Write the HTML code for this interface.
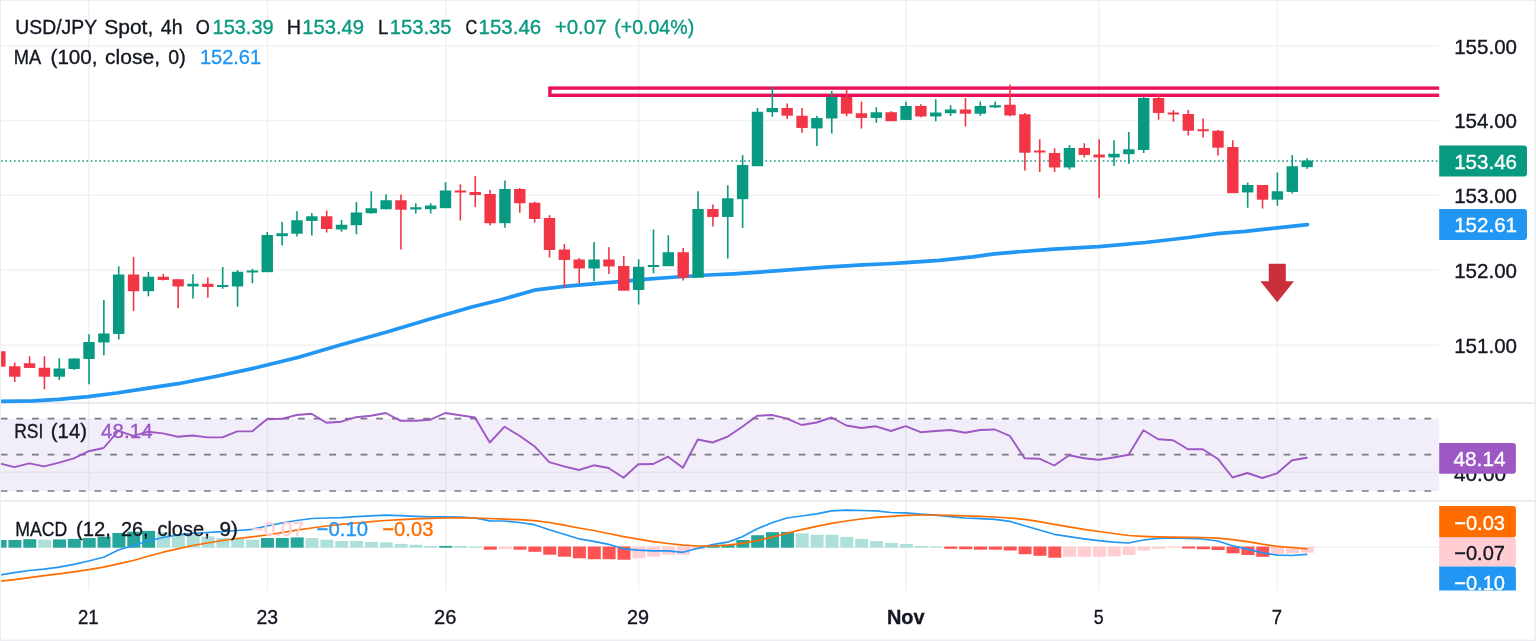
<!DOCTYPE html>
<html lang="en"><head><meta charset="utf-8"><title>USD/JPY Spot, 4h chart</title>
<style>html,body{margin:0;padding:0;background:#fff}body{width:1536px;height:641px;overflow:hidden}svg{display:block}text{font-family:"Liberation Sans","DejaVu Sans",sans-serif}</style></head><body>
<svg width="1536" height="641" viewBox="0 0 1536 641">
<rect x="0" y="0" width="1536" height="641" fill="#ffffff"/>
<g id="grid"><rect x="88.20" y="1" width="1.4" height="589.3" fill="#eff2f1"/><rect x="266.80" y="1" width="1.4" height="589.3" fill="#eff2f1"/><rect x="445.10" y="1" width="1.4" height="589.3" fill="#eff2f1"/><rect x="637.90" y="1" width="1.4" height="589.3" fill="#eff2f1"/><rect x="905.10" y="1" width="1.4" height="589.3" fill="#eff2f1"/><rect x="1098.20" y="1" width="1.4" height="589.3" fill="#eff2f1"/><rect x="1276.50" y="1" width="1.4" height="589.3" fill="#eff2f1"/><rect x="1" y="45.30" width="1438.2" height="1.4" fill="#eff2f1"/><rect x="1" y="119.90" width="1438.2" height="1.4" fill="#eff2f1"/><rect x="1" y="194.65" width="1438.2" height="1.4" fill="#eff2f1"/><rect x="1" y="269.30" width="1438.2" height="1.4" fill="#eff2f1"/><rect x="1" y="344.50" width="1438.2" height="1.4" fill="#eff2f1"/><rect x="1" y="471.60" width="1438.2" height="1.2" fill="#eff2f1"/><rect x="1" y="546.60" width="1438.2" height="1.2" fill="#eff2f1"/></g>
<rect x="1" y="418.7" width="1438.2" height="72.4" fill="#7e57c2" fill-opacity="0.1"/>
<line x1="0.7" y1="418.7" x2="1438.2" y2="418.7" stroke="#787b86" stroke-width="1.7" stroke-dasharray="6.8 8.845"/>
<line x1="0.7" y1="454.7" x2="1438.2" y2="454.7" stroke="#787b86" stroke-width="1.7" stroke-dasharray="6.8 8.845"/>
<line x1="0.7" y1="491.0" x2="1438.2" y2="491.0" stroke="#787b86" stroke-width="1.7" stroke-dasharray="6.8 8.845"/>
<rect x="0" y="402.1" width="1536" height="1.6" fill="#e4e7ee"/>
<rect x="0" y="500.0" width="1536" height="1.6" fill="#e4e7ee"/>
<rect x="549.9" y="88.1" width="892.3" height="7.2" fill="none" stroke="#e8105a" stroke-width="3.4" clip-path="url(#cpMain)"/>
<defs><clipPath id="cpMain"><rect x="0" y="0" width="1439.2" height="402"/></clipPath><clipPath id="cpChart"><rect x="1" y="0" width="1438.2" height="641"/></clipPath></defs>
<line x1="1.2" y1="161.1" x2="1439.2" y2="161.1" stroke="#089981" stroke-width="1.5" stroke-dasharray="1.55 2.72"/>
<polyline points="-2.0,401.4 0.0,401.3 33.3,400.8 58.3,399.3 88.3,396.7 116.7,393.0 146.7,388.3 178.0,383.7 216.7,376.3 255.7,367.8 297.7,357.5 339.3,345.3 386.0,332.2 429.3,319.2 472.7,306.7 500.0,300.0 534.2,290.2 564.2,286.3 593.3,283.8 616.7,281.8 650.0,278.8 676.7,277.0 708.3,275.0 733.3,273.8 756.0,272.4 789.3,269.8 826.0,267.1 862.7,264.8 892.7,263.5 906.0,262.7 939.3,260.3 972.7,256.8 994.3,253.8 1012.0,252.3 1053.7,249.2 1098.7,246.6 1145.3,242.5 1188.7,237.5 1217.0,233.7 1245.3,231.3 1267.7,228.9 1277.2,227.9 1307.5,224.7" fill="none" stroke="#2196f3" stroke-width="3.7" stroke-linejoin="round" stroke-linecap="round" clip-path="url(#cpChart)"/>
<g id="candles" clip-path="url(#cpChart)"><rect x="-5.83" y="351.25" width="11.4" height="15.45" fill="#f23645"/><rect x="13.92" y="362.50" width="1.6" height="19.50" fill="#f23645"/><rect x="9.02" y="366.25" width="11.4" height="10.45" fill="#f23645"/><rect x="28.78" y="356.25" width="1.6" height="11.25" fill="#f23645"/><rect x="23.88" y="363.25" width="11.4" height="4.70" fill="#f23645"/><rect x="43.64" y="356.25" width="1.6" height="33.00" fill="#f23645"/><rect x="38.73" y="367.75" width="11.4" height="8.95" fill="#f23645"/><rect x="58.49" y="358.25" width="1.6" height="21.75" fill="#089981"/><rect x="53.59" y="368.50" width="11.4" height="8.20" fill="#089981"/><rect x="73.34" y="358.50" width="1.6" height="11.50" fill="#089981"/><rect x="68.44" y="358.50" width="11.4" height="10.45" fill="#089981"/><rect x="88.20" y="334.25" width="1.6" height="50.00" fill="#089981"/><rect x="83.30" y="342.00" width="11.4" height="16.95" fill="#089981"/><rect x="103.06" y="300.00" width="1.6" height="55.25" fill="#089981"/><rect x="98.16" y="333.50" width="11.4" height="8.95" fill="#089981"/><rect x="117.91" y="266.25" width="1.6" height="73.25" fill="#089981"/><rect x="113.01" y="274.50" width="11.4" height="59.45" fill="#089981"/><rect x="132.76" y="257.00" width="1.6" height="54.00" fill="#f23645"/><rect x="127.86" y="274.50" width="11.4" height="16.70" fill="#f23645"/><rect x="147.62" y="272.00" width="1.6" height="24.25" fill="#089981"/><rect x="142.72" y="276.75" width="11.4" height="14.45" fill="#089981"/><rect x="162.48" y="273.75" width="1.6" height="6.75" fill="#f23645"/><rect x="157.58" y="276.75" width="11.4" height="3.20" fill="#f23645"/><rect x="177.33" y="279.25" width="1.6" height="29.00" fill="#f23645"/><rect x="172.43" y="279.25" width="11.4" height="7.20" fill="#f23645"/><rect x="192.19" y="274.25" width="1.6" height="24.25" fill="#089981"/><rect x="187.29" y="283.75" width="11.4" height="2.70" fill="#089981"/><rect x="207.04" y="277.50" width="1.6" height="20.25" fill="#f23645"/><rect x="202.14" y="283.75" width="11.4" height="3.20" fill="#f23645"/><rect x="221.89" y="267.00" width="1.6" height="21.75" fill="#089981"/><rect x="217.00" y="285.00" width="11.4" height="2.00" fill="#089981"/><rect x="236.75" y="270.00" width="1.6" height="36.75" fill="#089981"/><rect x="231.85" y="271.75" width="11.4" height="14.70" fill="#089981"/><rect x="251.61" y="268.75" width="1.6" height="14.50" fill="#089981"/><rect x="246.71" y="270.50" width="11.4" height="2.00" fill="#089981"/><rect x="266.46" y="232.00" width="1.6" height="39.75" fill="#089981"/><rect x="261.56" y="235.00" width="11.4" height="37.20" fill="#089981"/><rect x="281.31" y="222.00" width="1.6" height="23.50" fill="#089981"/><rect x="276.42" y="233.25" width="11.4" height="2.95" fill="#089981"/><rect x="296.17" y="211.25" width="1.6" height="25.25" fill="#089981"/><rect x="291.27" y="220.25" width="11.4" height="13.45" fill="#089981"/><rect x="311.03" y="213.00" width="1.6" height="22.50" fill="#089981"/><rect x="306.13" y="216.25" width="11.4" height="4.70" fill="#089981"/><rect x="325.88" y="210.50" width="1.6" height="22.00" fill="#f23645"/><rect x="320.98" y="216.25" width="11.4" height="12.70" fill="#f23645"/><rect x="340.74" y="220.00" width="1.6" height="11.75" fill="#089981"/><rect x="335.84" y="224.75" width="11.4" height="4.70" fill="#089981"/><rect x="355.59" y="202.00" width="1.6" height="32.25" fill="#089981"/><rect x="350.69" y="212.50" width="11.4" height="12.70" fill="#089981"/><rect x="370.44" y="191.25" width="1.6" height="22.50" fill="#089981"/><rect x="365.55" y="208.25" width="11.4" height="4.95" fill="#089981"/><rect x="385.30" y="194.25" width="1.6" height="15.25" fill="#089981"/><rect x="380.40" y="200.25" width="11.4" height="8.95" fill="#089981"/><rect x="400.15" y="194.50" width="1.6" height="55.00" fill="#f23645"/><rect x="395.25" y="200.25" width="11.4" height="9.45" fill="#f23645"/><rect x="415.01" y="203.25" width="1.6" height="10.25" fill="#089981"/><rect x="410.11" y="207.25" width="11.4" height="2.20" fill="#089981"/><rect x="429.87" y="203.25" width="1.6" height="10.25" fill="#089981"/><rect x="424.97" y="205.50" width="11.4" height="3.70" fill="#089981"/><rect x="444.72" y="182.25" width="1.6" height="25.50" fill="#089981"/><rect x="439.82" y="190.50" width="11.4" height="17.70" fill="#089981"/><rect x="459.57" y="184.25" width="1.6" height="36.25" fill="#f23645"/><rect x="454.68" y="190.50" width="11.4" height="2.00" fill="#f23645"/><rect x="474.43" y="176.00" width="1.6" height="31.00" fill="#f23645"/><rect x="469.53" y="192.00" width="11.4" height="2.95" fill="#f23645"/><rect x="489.29" y="190.00" width="1.6" height="35.50" fill="#f23645"/><rect x="484.39" y="194.00" width="11.4" height="29.20" fill="#f23645"/><rect x="504.14" y="180.50" width="1.6" height="47.25" fill="#089981"/><rect x="499.24" y="189.00" width="11.4" height="34.20" fill="#089981"/><rect x="519.00" y="188.00" width="1.6" height="24.75" fill="#f23645"/><rect x="514.09" y="189.00" width="11.4" height="14.20" fill="#f23645"/><rect x="533.85" y="201.75" width="1.6" height="21.00" fill="#f23645"/><rect x="528.95" y="202.75" width="11.4" height="16.20" fill="#f23645"/><rect x="548.71" y="215.25" width="1.6" height="42.25" fill="#f23645"/><rect x="543.80" y="218.00" width="11.4" height="31.95" fill="#f23645"/><rect x="563.56" y="244.00" width="1.6" height="44.00" fill="#f23645"/><rect x="558.66" y="249.50" width="11.4" height="10.45" fill="#f23645"/><rect x="578.42" y="258.00" width="1.6" height="25.25" fill="#f23645"/><rect x="573.51" y="259.50" width="11.4" height="8.95" fill="#f23645"/><rect x="593.27" y="242.00" width="1.6" height="39.25" fill="#089981"/><rect x="588.37" y="259.50" width="11.4" height="8.95" fill="#089981"/><rect x="608.13" y="247.25" width="1.6" height="26.75" fill="#f23645"/><rect x="603.23" y="259.50" width="11.4" height="6.95" fill="#f23645"/><rect x="622.98" y="256.00" width="1.6" height="34.25" fill="#f23645"/><rect x="618.08" y="266.00" width="11.4" height="24.70" fill="#f23645"/><rect x="637.84" y="259.25" width="1.6" height="45.25" fill="#089981"/><rect x="632.93" y="266.75" width="11.4" height="23.20" fill="#089981"/><rect x="652.69" y="229.50" width="1.6" height="43.75" fill="#089981"/><rect x="647.79" y="265.00" width="11.4" height="2.00" fill="#089981"/><rect x="667.55" y="235.25" width="1.6" height="30.50" fill="#089981"/><rect x="662.64" y="252.25" width="11.4" height="13.95" fill="#089981"/><rect x="682.40" y="248.00" width="1.6" height="32.50" fill="#f23645"/><rect x="677.50" y="252.25" width="11.4" height="25.45" fill="#f23645"/><rect x="697.26" y="191.25" width="1.6" height="86.00" fill="#089981"/><rect x="692.36" y="209.00" width="11.4" height="68.70" fill="#089981"/><rect x="712.11" y="204.50" width="1.6" height="22.00" fill="#f23645"/><rect x="707.21" y="209.00" width="11.4" height="7.95" fill="#f23645"/><rect x="726.97" y="185.25" width="1.6" height="73.25" fill="#089981"/><rect x="722.06" y="198.25" width="11.4" height="18.70" fill="#089981"/><rect x="741.82" y="155.00" width="1.6" height="73.00" fill="#089981"/><rect x="736.92" y="165.00" width="11.4" height="34.20" fill="#089981"/><rect x="756.68" y="108.00" width="1.6" height="57.75" fill="#089981"/><rect x="751.77" y="111.75" width="11.4" height="54.45" fill="#089981"/><rect x="771.53" y="87.00" width="1.6" height="29.75" fill="#089981"/><rect x="766.63" y="108.00" width="11.4" height="4.20" fill="#089981"/><rect x="786.39" y="103.50" width="1.6" height="15.50" fill="#f23645"/><rect x="781.49" y="108.00" width="11.4" height="7.70" fill="#f23645"/><rect x="801.24" y="108.00" width="1.6" height="24.75" fill="#f23645"/><rect x="796.34" y="115.75" width="11.4" height="12.20" fill="#f23645"/><rect x="816.10" y="115.75" width="1.6" height="30.25" fill="#089981"/><rect x="811.19" y="118.00" width="11.4" height="10.45" fill="#089981"/><rect x="830.95" y="91.00" width="1.6" height="42.50" fill="#089981"/><rect x="826.05" y="97.00" width="11.4" height="21.45" fill="#089981"/><rect x="845.81" y="89.50" width="1.6" height="26.75" fill="#f23645"/><rect x="840.90" y="97.00" width="11.4" height="16.70" fill="#f23645"/><rect x="860.66" y="101.50" width="1.6" height="27.00" fill="#f23645"/><rect x="855.76" y="113.25" width="11.4" height="4.70" fill="#f23645"/><rect x="875.52" y="107.25" width="1.6" height="15.50" fill="#089981"/><rect x="870.62" y="112.25" width="11.4" height="5.70" fill="#089981"/><rect x="890.37" y="111.25" width="1.6" height="9.50" fill="#f23645"/><rect x="885.47" y="112.25" width="11.4" height="8.95" fill="#f23645"/><rect x="905.23" y="101.75" width="1.6" height="17.75" fill="#089981"/><rect x="900.32" y="106.00" width="11.4" height="13.95" fill="#089981"/><rect x="920.08" y="104.25" width="1.6" height="13.00" fill="#f23645"/><rect x="915.18" y="106.00" width="11.4" height="10.45" fill="#f23645"/><rect x="934.94" y="99.25" width="1.6" height="22.00" fill="#089981"/><rect x="930.03" y="112.50" width="11.4" height="3.95" fill="#089981"/><rect x="949.79" y="105.25" width="1.6" height="10.75" fill="#089981"/><rect x="944.89" y="109.50" width="11.4" height="3.70" fill="#089981"/><rect x="964.65" y="98.00" width="1.6" height="28.50" fill="#f23645"/><rect x="959.75" y="109.50" width="11.4" height="4.20" fill="#f23645"/><rect x="979.50" y="101.50" width="1.6" height="14.25" fill="#089981"/><rect x="974.60" y="106.00" width="11.4" height="7.70" fill="#089981"/><rect x="994.36" y="101.50" width="1.6" height="6.50" fill="#089981"/><rect x="989.45" y="105.25" width="11.4" height="2.20" fill="#089981"/><rect x="1009.21" y="84.50" width="1.6" height="31.75" fill="#f23645"/><rect x="1004.31" y="104.75" width="11.4" height="10.70" fill="#f23645"/><rect x="1024.07" y="113.00" width="1.6" height="57.50" fill="#f23645"/><rect x="1019.16" y="114.25" width="11.4" height="38.45" fill="#f23645"/><rect x="1038.92" y="139.25" width="1.6" height="32.75" fill="#f23645"/><rect x="1034.02" y="150.50" width="11.4" height="2.00" fill="#f23645"/><rect x="1053.78" y="148.25" width="1.6" height="23.75" fill="#f23645"/><rect x="1048.88" y="153.00" width="11.4" height="14.45" fill="#f23645"/><rect x="1068.63" y="145.00" width="1.6" height="24.50" fill="#089981"/><rect x="1063.73" y="148.00" width="11.4" height="19.45" fill="#089981"/><rect x="1083.49" y="143.25" width="1.6" height="14.25" fill="#f23645"/><rect x="1078.59" y="148.00" width="11.4" height="6.95" fill="#f23645"/><rect x="1098.34" y="139.25" width="1.6" height="58.75" fill="#f23645"/><rect x="1093.44" y="154.50" width="11.4" height="2.95" fill="#f23645"/><rect x="1113.20" y="140.25" width="1.6" height="25.75" fill="#089981"/><rect x="1108.30" y="153.75" width="11.4" height="3.70" fill="#089981"/><rect x="1128.05" y="132.00" width="1.6" height="31.75" fill="#089981"/><rect x="1123.15" y="149.25" width="11.4" height="4.95" fill="#089981"/><rect x="1142.90" y="97.00" width="1.6" height="56.00" fill="#089981"/><rect x="1138.00" y="98.00" width="11.4" height="51.95" fill="#089981"/><rect x="1157.76" y="94.00" width="1.6" height="25.75" fill="#f23645"/><rect x="1152.86" y="98.00" width="11.4" height="14.95" fill="#f23645"/><rect x="1172.62" y="110.00" width="1.6" height="11.75" fill="#f23645"/><rect x="1167.71" y="112.50" width="11.4" height="2.00" fill="#f23645"/><rect x="1187.47" y="110.00" width="1.6" height="25.50" fill="#f23645"/><rect x="1182.57" y="114.00" width="11.4" height="16.70" fill="#f23645"/><rect x="1202.33" y="118.50" width="1.6" height="19.00" fill="#f23645"/><rect x="1197.42" y="129.25" width="11.4" height="2.00" fill="#f23645"/><rect x="1217.18" y="130.00" width="1.6" height="25.50" fill="#f23645"/><rect x="1212.28" y="130.75" width="11.4" height="16.95" fill="#f23645"/><rect x="1232.04" y="140.25" width="1.6" height="52.50" fill="#f23645"/><rect x="1227.13" y="147.00" width="11.4" height="46.20" fill="#f23645"/><rect x="1246.89" y="182.50" width="1.6" height="25.25" fill="#089981"/><rect x="1241.99" y="185.00" width="11.4" height="7.45" fill="#089981"/><rect x="1261.75" y="185.00" width="1.6" height="23.50" fill="#f23645"/><rect x="1256.85" y="185.00" width="11.4" height="14.70" fill="#f23645"/><rect x="1276.60" y="172.50" width="1.6" height="33.25" fill="#089981"/><rect x="1271.70" y="191.25" width="11.4" height="8.45" fill="#089981"/><rect x="1291.46" y="155.00" width="1.6" height="38.50" fill="#089981"/><rect x="1286.56" y="166.25" width="11.4" height="25.70" fill="#089981"/><rect x="1306.31" y="158.25" width="1.6" height="10.65" fill="#089981"/><rect x="1301.41" y="160.50" width="11.4" height="6.65" fill="#089981"/></g>
<path d="M1268.8 263.8H1285.8V281.3H1294L1277.2 302.3L1260.4 281.3H1268.8Z" fill="#cc2f3c"/>
<g id="hist" clip-path="url(#cpChart)"><rect x="-6.43" y="540.00" width="13.0" height="7.70" fill="#26a69a"/><rect x="8.42" y="540.00" width="13.0" height="7.70" fill="#26a69a"/><rect x="23.28" y="539.20" width="13.0" height="8.50" fill="#26a69a"/><rect x="38.14" y="539.70" width="13.0" height="8.00" fill="#ace0d9"/><rect x="52.99" y="539.40" width="13.0" height="8.30" fill="#26a69a"/><rect x="67.84" y="538.90" width="13.0" height="8.80" fill="#26a69a"/><rect x="82.70" y="538.00" width="13.0" height="9.70" fill="#26a69a"/><rect x="97.56" y="536.70" width="13.0" height="11.00" fill="#26a69a"/><rect x="112.41" y="533.00" width="13.0" height="14.70" fill="#26a69a"/><rect x="127.26" y="531.70" width="13.0" height="16.00" fill="#26a69a"/><rect x="142.12" y="530.90" width="13.0" height="16.80" fill="#26a69a"/><rect x="156.98" y="532.20" width="13.0" height="15.50" fill="#ace0d9"/><rect x="171.83" y="533.90" width="13.0" height="13.80" fill="#ace0d9"/><rect x="186.69" y="535.00" width="13.0" height="12.70" fill="#ace0d9"/><rect x="201.54" y="536.40" width="13.0" height="11.30" fill="#ace0d9"/><rect x="216.39" y="538.00" width="13.0" height="9.70" fill="#ace0d9"/><rect x="231.25" y="538.90" width="13.0" height="8.80" fill="#ace0d9"/><rect x="246.11" y="539.70" width="13.0" height="8.00" fill="#ace0d9"/><rect x="260.96" y="538.00" width="13.0" height="9.70" fill="#26a69a"/><rect x="275.81" y="538.00" width="13.0" height="9.70" fill="#26a69a"/><rect x="290.67" y="537.40" width="13.0" height="10.30" fill="#26a69a"/><rect x="305.53" y="538.00" width="13.0" height="9.70" fill="#ace0d9"/><rect x="320.38" y="539.70" width="13.0" height="8.00" fill="#ace0d9"/><rect x="335.24" y="541.00" width="13.0" height="6.70" fill="#ace0d9"/><rect x="350.09" y="541.00" width="13.0" height="6.70" fill="#ace0d9"/><rect x="364.94" y="541.90" width="13.0" height="5.80" fill="#ace0d9"/><rect x="379.80" y="542.40" width="13.0" height="5.30" fill="#ace0d9"/><rect x="394.65" y="543.90" width="13.0" height="3.80" fill="#ace0d9"/><rect x="409.51" y="544.70" width="13.0" height="3.00" fill="#ace0d9"/><rect x="424.37" y="546.00" width="13.0" height="1.70" fill="#ace0d9"/><rect x="439.22" y="545.90" width="13.0" height="1.80" fill="#26a69a"/><rect x="454.07" y="546.00" width="13.0" height="1.70" fill="#ace0d9"/><rect x="468.93" y="546.50" width="13.0" height="1.20" fill="#ace0d9"/><rect x="483.79" y="546.5" width="13.0" height="3.20" fill="#ff5252"/><rect x="498.64" y="546.5" width="13.0" height="2.50" fill="#ffcdd2"/><rect x="513.50" y="546.5" width="13.0" height="3.20" fill="#ff5252"/><rect x="528.35" y="546.5" width="13.0" height="5.30" fill="#ff5252"/><rect x="543.21" y="546.5" width="13.0" height="8.20" fill="#ff5252"/><rect x="558.06" y="546.5" width="13.0" height="10.20" fill="#ff5252"/><rect x="572.92" y="546.5" width="13.0" height="11.80" fill="#ff5252"/><rect x="587.77" y="546.5" width="13.0" height="12.70" fill="#ff5252"/><rect x="602.63" y="546.5" width="13.0" height="12.70" fill="#ff5252"/><rect x="617.48" y="546.5" width="13.0" height="13.20" fill="#ff5252"/><rect x="632.34" y="546.5" width="13.0" height="11.80" fill="#ffcdd2"/><rect x="647.19" y="546.5" width="13.0" height="10.20" fill="#ffcdd2"/><rect x="662.05" y="546.5" width="13.0" height="8.20" fill="#ffcdd2"/><rect x="676.90" y="546.5" width="13.0" height="8.20" fill="#ffcdd2"/><rect x="691.76" y="546.5" width="13.0" height="2.80" fill="#ffcdd2"/><rect x="706.61" y="545.20" width="13.0" height="2.50" fill="#26a69a"/><rect x="721.47" y="544.70" width="13.0" height="3.00" fill="#26a69a"/><rect x="736.32" y="540.00" width="13.0" height="7.70" fill="#26a69a"/><rect x="751.18" y="535.20" width="13.0" height="12.50" fill="#26a69a"/><rect x="766.03" y="532.20" width="13.0" height="15.50" fill="#26a69a"/><rect x="780.89" y="531.90" width="13.0" height="15.80" fill="#26a69a"/><rect x="795.74" y="533.40" width="13.0" height="14.30" fill="#ace0d9"/><rect x="810.60" y="534.70" width="13.0" height="13.00" fill="#ace0d9"/><rect x="825.45" y="534.70" width="13.0" height="13.00" fill="#ace0d9"/><rect x="840.31" y="536.90" width="13.0" height="10.80" fill="#ace0d9"/><rect x="855.16" y="538.90" width="13.0" height="8.80" fill="#ace0d9"/><rect x="870.02" y="541.00" width="13.0" height="6.70" fill="#ace0d9"/><rect x="884.87" y="543.00" width="13.0" height="4.70" fill="#ace0d9"/><rect x="899.73" y="544.00" width="13.0" height="3.70" fill="#ace0d9"/><rect x="914.58" y="546.00" width="13.0" height="1.70" fill="#ace0d9"/><rect x="929.44" y="546.50" width="13.0" height="1.20" fill="#ace0d9"/><rect x="944.29" y="546.5" width="13.0" height="2.30" fill="#ff5252"/><rect x="959.15" y="546.5" width="13.0" height="2.70" fill="#ff5252"/><rect x="974.00" y="546.5" width="13.0" height="3.20" fill="#ff5252"/><rect x="988.86" y="546.5" width="13.0" height="3.20" fill="#ff5252"/><rect x="1003.71" y="546.5" width="13.0" height="4.00" fill="#ff5252"/><rect x="1018.57" y="546.5" width="13.0" height="7.70" fill="#ff5252"/><rect x="1033.42" y="546.5" width="13.0" height="9.30" fill="#ff5252"/><rect x="1048.28" y="546.5" width="13.0" height="11.20" fill="#ff5252"/><rect x="1063.13" y="546.5" width="13.0" height="10.30" fill="#ffcdd2"/><rect x="1077.99" y="546.5" width="13.0" height="10.30" fill="#ffcdd2"/><rect x="1092.84" y="546.5" width="13.0" height="10.30" fill="#ffcdd2"/><rect x="1107.70" y="546.5" width="13.0" height="9.80" fill="#ffcdd2"/><rect x="1122.55" y="546.5" width="13.0" height="8.50" fill="#ffcdd2"/><rect x="1137.40" y="546.5" width="13.0" height="4.00" fill="#ffcdd2"/><rect x="1152.26" y="546.5" width="13.0" height="2.30" fill="#ffcdd2"/><rect x="1167.12" y="546.5" width="13.0" height="1.00" fill="#ffcdd2"/><rect x="1181.97" y="546.5" width="13.0" height="2.00" fill="#ff5252"/><rect x="1196.83" y="546.5" width="13.0" height="2.70" fill="#ff5252"/><rect x="1211.68" y="546.5" width="13.0" height="3.50" fill="#ff5252"/><rect x="1226.54" y="546.5" width="13.0" height="6.80" fill="#ff5252"/><rect x="1241.39" y="546.5" width="13.0" height="8.50" fill="#ff5252"/><rect x="1256.25" y="546.5" width="13.0" height="10.30" fill="#ff5252"/><rect x="1271.10" y="546.5" width="13.0" height="7.30" fill="#ffcdd2"/><rect x="1285.96" y="546.5" width="13.0" height="7.00" fill="#ffcdd2"/><rect x="1300.81" y="546.5" width="13.0" height="6.20" fill="#ffcdd2"/></g>
<polyline points="-0.4,575.0 14.4,572.7 29.3,570.5 44.1,569.2 59.0,567.2 73.8,564.3 88.7,561.0 103.6,557.2 118.4,550.0 133.3,545.5 148.1,541.0 163.0,537.5 177.8,535.0 192.7,533.3 207.5,532.5 222.4,531.7 237.2,530.5 252.1,529.3 267.0,526.0 281.8,523.0 296.7,520.5 311.5,518.5 326.4,518.0 341.2,517.7 356.1,516.7 370.9,515.8 385.8,515.2 400.7,515.7 415.5,516.3 430.4,516.8 445.2,516.8 460.1,517.2 474.9,518.0 489.8,520.8 504.6,521.0 519.5,522.5 534.4,524.7 549.2,529.7 564.1,534.3 578.9,538.8 593.8,541.3 608.6,544.3 623.5,548.8 638.3,550.2 653.2,550.8 668.0,550.8 682.9,552.3 697.8,548.3 712.6,544.7 727.5,542.2 742.3,536.8 757.2,528.8 772.0,522.7 786.9,518.0 801.7,516.0 816.6,513.8 831.5,510.8 846.3,510.2 861.2,510.5 876.0,510.8 890.9,512.5 905.7,512.8 920.6,514.2 935.4,515.2 950.3,516.7 965.1,518.0 980.0,518.7 994.9,519.3 1009.7,521.3 1024.6,525.8 1039.4,530.0 1054.3,534.3 1069.1,536.7 1084.0,538.8 1098.8,540.7 1113.7,542.2 1128.6,543.0 1143.4,540.0 1158.3,538.3 1173.1,537.8 1188.0,538.3 1202.8,539.0 1217.7,541.0 1232.5,545.8 1247.4,549.2 1262.2,552.7 1277.1,555.2 1292.0,555.5 1306.8,554.3" fill="none" stroke="#2196f3" stroke-width="1.7" stroke-linejoin="round" stroke-linecap="round" clip-path="url(#cpChart)"/>
<polyline points="-0.4,581.3 14.4,579.7 29.3,577.7 44.1,575.7 59.0,573.8 73.8,571.8 88.7,569.7 103.6,567.2 118.4,563.8 133.3,560.5 148.1,556.3 163.0,552.2 177.8,548.8 192.7,545.5 207.5,543.0 222.4,540.5 237.2,538.5 252.1,536.8 267.0,535.0 281.8,532.7 296.7,530.2 311.5,528.0 326.4,526.0 341.2,524.3 356.1,523.0 370.9,521.7 385.8,520.5 400.7,519.7 415.5,518.8 430.4,518.3 445.2,518.0 460.1,517.8 474.9,518.0 489.8,518.5 504.6,519.2 519.5,519.7 534.4,520.7 549.2,522.5 564.1,525.2 578.9,528.0 593.8,530.5 608.6,533.5 623.5,536.7 638.3,539.2 653.2,541.7 668.0,543.5 682.9,545.2 697.8,546.0 712.6,546.0 727.5,545.2 742.3,543.3 757.2,540.5 772.0,537.2 786.9,533.3 801.7,529.7 816.6,526.3 831.5,523.3 846.3,521.0 861.2,519.0 876.0,517.3 890.9,516.3 905.7,515.3 920.6,515.0 935.4,515.0 950.3,515.3 965.1,515.8 980.0,516.3 994.9,517.0 1009.7,518.0 1024.6,519.3 1039.4,521.7 1054.3,524.3 1069.1,526.8 1084.0,529.3 1098.8,531.5 1113.7,533.5 1128.6,535.5 1143.4,536.3 1158.3,536.8 1173.1,537.2 1188.0,537.3 1202.8,537.5 1217.7,538.2 1232.5,539.7 1247.4,541.7 1262.2,544.2 1277.1,546.3 1292.0,547.5 1306.8,548.8" fill="none" stroke="#ff6d00" stroke-width="1.7" stroke-linejoin="round" stroke-linecap="round" clip-path="url(#cpChart)"/>
<polyline points="-0.4,463.4 14.4,467.1 29.3,463.4 44.1,466.4 59.0,462.6 73.8,458.4 88.7,451.2 103.6,448.0 118.4,430.9 133.3,435.9 148.1,431.7 163.0,433.4 177.8,436.7 192.7,435.5 207.5,437.4 222.4,437.4 237.2,431.4 252.1,431.4 267.0,419.2 281.8,418.8 296.7,415.0 311.5,413.7 326.4,422.8 341.2,421.7 356.1,417.2 370.9,415.8 385.8,413.0 400.7,420.8 415.5,420.8 430.4,419.7 445.2,413.0 460.1,415.3 474.9,417.5 489.8,442.5 504.6,426.7 519.5,435.8 534.4,446.2 549.2,462.2 564.1,466.3 578.9,470.0 593.8,465.3 608.6,468.0 623.5,477.8 638.3,464.3 653.2,464.0 668.0,456.7 682.9,467.8 697.8,439.5 712.6,442.5 727.5,436.7 742.3,426.7 757.2,415.8 772.0,415.0 786.9,418.7 801.7,425.0 816.6,422.5 831.5,417.5 846.3,425.5 861.2,428.0 876.0,426.3 890.9,431.0 905.7,426.2 920.6,432.2 935.4,431.0 950.3,430.0 965.1,432.7 980.0,430.0 994.9,429.5 1009.7,435.8 1024.6,458.3 1039.4,458.7 1054.3,465.5 1069.1,455.2 1084.0,458.3 1098.8,459.8 1113.7,457.5 1128.6,454.7 1143.4,430.3 1158.3,439.2 1173.1,440.2 1188.0,449.3 1202.8,449.3 1217.7,458.7 1232.5,477.5 1247.4,473.0 1262.2,478.0 1277.1,473.3 1292.0,460.3 1306.8,457.8" fill="none" stroke="#9d58c4" stroke-width="1.9" stroke-linejoin="round" stroke-linecap="round" clip-path="url(#cpChart)"/>
<text x="15.3" y="34.4" font-size="21.0" fill="#131722" stroke="#131722" stroke-width="0.35" textLength="81.8" lengthAdjust="spacingAndGlyphs">USD/JPY</text>
<text x="104.2" y="34.4" font-size="21.0" fill="#131722" stroke="#131722" stroke-width="0.35" textLength="49.1" lengthAdjust="spacingAndGlyphs">Spot,</text>
<text x="160.8" y="34.4" font-size="21.0" fill="#131722" stroke="#131722" stroke-width="0.35" textLength="21.8" lengthAdjust="spacingAndGlyphs">4h</text>
<text x="195.8" y="34.4" font-size="21.0" fill="#131722" stroke="#131722" stroke-width="0.35" textLength="14.1" lengthAdjust="spacingAndGlyphs">O</text>
<text x="286.7" y="34.4" font-size="21.0" fill="#131722" stroke="#131722" stroke-width="0.35" textLength="14.3" lengthAdjust="spacingAndGlyphs">H</text>
<text x="377.9" y="34.4" font-size="21.0" fill="#131722" stroke="#131722" stroke-width="0.35" textLength="10.3" lengthAdjust="spacingAndGlyphs">L</text>
<text x="465.4" y="34.4" font-size="21.0" fill="#131722" stroke="#131722" stroke-width="0.35" textLength="11.8" lengthAdjust="spacingAndGlyphs">C</text>
<text x="212.6" y="34.4" font-size="21.0" fill="#089981" stroke="#089981" stroke-width="0.35" textLength="61.0" lengthAdjust="spacingAndGlyphs">153.39</text>
<text x="302.2" y="34.4" font-size="21.0" fill="#089981" stroke="#089981" stroke-width="0.35" textLength="61.9" lengthAdjust="spacingAndGlyphs">153.49</text>
<text x="389.7" y="34.4" font-size="21.0" fill="#089981" stroke="#089981" stroke-width="0.35" textLength="61.9" lengthAdjust="spacingAndGlyphs">153.35</text>
<text x="478.5" y="34.4" font-size="21.0" fill="#089981" stroke="#089981" stroke-width="0.35" textLength="62.7" lengthAdjust="spacingAndGlyphs">153.46</text>
<text x="554.7" y="34.4" font-size="21.0" fill="#089981" stroke="#089981" stroke-width="0.35" textLength="51.9" lengthAdjust="spacingAndGlyphs">+0.07</text>
<text x="614.2" y="34.4" font-size="21.0" fill="#089981" stroke="#089981" stroke-width="0.35" textLength="80.0" lengthAdjust="spacingAndGlyphs">(+0.04%)</text>
<text x="13.8" y="63.8" font-size="21.0" fill="#131722" stroke="#131722" stroke-width="0.35" textLength="27.4" lengthAdjust="spacingAndGlyphs">MA</text>
<text x="50.5" y="63.8" font-size="21.0" fill="#131722" stroke="#131722" stroke-width="0.35" textLength="47.1" lengthAdjust="spacingAndGlyphs">(100,</text>
<text x="105.0" y="63.8" font-size="21.0" fill="#131722" stroke="#131722" stroke-width="0.35" textLength="55.0" lengthAdjust="spacingAndGlyphs">close,</text>
<text x="168.3" y="63.8" font-size="21.0" fill="#131722" stroke="#131722" stroke-width="0.35" textLength="17.4" lengthAdjust="spacingAndGlyphs">0)</text>
<text x="199.9" y="63.8" font-size="21.0" fill="#2196f3" stroke="#2196f3" stroke-width="0.35" textLength="61.2" lengthAdjust="spacingAndGlyphs">152.61</text>
<text x="14.2" y="437.8" font-size="21.0" fill="#131722" stroke="#131722" stroke-width="0.35" textLength="29.1" lengthAdjust="spacingAndGlyphs">RSI</text>
<text x="50.8" y="437.8" font-size="21.0" fill="#131722" stroke="#131722" stroke-width="0.35" textLength="36.2" lengthAdjust="spacingAndGlyphs">(14)</text>
<text x="101.1" y="437.8" font-size="21.0" fill="#9d58c4" stroke="#9d58c4" stroke-width="0.35" textLength="51.5" lengthAdjust="spacingAndGlyphs">48.14</text>
<text x="15.2" y="535.7" font-size="21.0" fill="#131722" stroke="#131722" stroke-width="0.35" textLength="52.0" lengthAdjust="spacingAndGlyphs">MACD</text>
<text x="75.9" y="535.7" font-size="21.0" fill="#131722" stroke="#131722" stroke-width="0.35" textLength="34.9" lengthAdjust="spacingAndGlyphs">(12,</text>
<text x="120.9" y="535.7" font-size="21.0" fill="#131722" stroke="#131722" stroke-width="0.35" textLength="27.7" lengthAdjust="spacingAndGlyphs">26,</text>
<text x="157.4" y="535.7" font-size="21.0" fill="#131722" stroke="#131722" stroke-width="0.35" textLength="52.3" lengthAdjust="spacingAndGlyphs">close,</text>
<text x="219.4" y="535.7" font-size="21.0" fill="#131722" stroke="#131722" stroke-width="0.35" textLength="18.4" lengthAdjust="spacingAndGlyphs">9)</text>
<text x="251.8" y="535.7" font-size="21.0" fill="#ffcdd2" stroke="#ffcdd2" stroke-width="0.35" textLength="52.2" lengthAdjust="spacingAndGlyphs">−0.07</text>
<text x="316.6" y="535.7" font-size="21.0" fill="#2196f3" stroke="#2196f3" stroke-width="0.35" textLength="51.4" lengthAdjust="spacingAndGlyphs">−0.10</text>
<text x="382.2" y="535.7" font-size="21.0" fill="#ff6d00" stroke="#ff6d00" stroke-width="0.35" textLength="51.2" lengthAdjust="spacingAndGlyphs">−0.03</text>
<text x="1454.2" y="53.5" font-size="20.6" fill="#131722" stroke="#131722" stroke-width="0.35" textLength="62.8" lengthAdjust="spacingAndGlyphs">155.00</text>
<text x="1454.2" y="128.3" font-size="20.6" fill="#131722" stroke="#131722" stroke-width="0.35" textLength="62.8" lengthAdjust="spacingAndGlyphs">154.00</text>
<text x="1454.2" y="203.1" font-size="20.6" fill="#131722" stroke="#131722" stroke-width="0.35" textLength="62.8" lengthAdjust="spacingAndGlyphs">153.00</text>
<text x="1454.2" y="277.9" font-size="20.6" fill="#131722" stroke="#131722" stroke-width="0.35" textLength="62.8" lengthAdjust="spacingAndGlyphs">152.00</text>
<text x="1454.2" y="352.8" font-size="20.6" fill="#131722" stroke="#131722" stroke-width="0.35" textLength="62.8" lengthAdjust="spacingAndGlyphs">151.00</text>
<text x="1454.0" y="480.9" font-size="20.6" fill="#131722" stroke="#131722" stroke-width="0.35" textLength="52.0" lengthAdjust="spacingAndGlyphs">40.00</text>
<path d="M1439.2 145.5H1523.8Q1527 145.5 1527 148.7V173.3Q1527 176.5 1523.8 176.5H1439.2Z" fill="#089981"/>
<text x="1454.2" y="168.9" font-size="20.6" fill="#ffffff" stroke="#ffffff" stroke-width="0.35" textLength="62.8" lengthAdjust="spacingAndGlyphs">153.46</text>
<path d="M1439.2 209H1523.8Q1527 209 1527 212.2V236.8Q1527 240 1523.8 240H1439.2Z" fill="#2196f3"/>
<text x="1454.2" y="232.3" font-size="20.6" fill="#ffffff" stroke="#ffffff" stroke-width="0.35" textLength="62.8" lengthAdjust="spacingAndGlyphs">152.61</text>
<path d="M1439.2 443H1512.7Q1515.9 443 1515.9 446.2V470.5Q1515.9 473.7 1512.7 473.7H1439.2Z" fill="#9d58c4"/>
<text x="1453.5" y="466.4" font-size="20.6" fill="#ffffff" stroke="#ffffff" stroke-width="0.35" textLength="52.0" lengthAdjust="spacingAndGlyphs">48.14</text>
<path d="M1439.2 506H1512.7Q1515.9 506 1515.9 509.2V534.1999999999999Q1515.9 537.4 1512.7 537.4H1439.2Z" fill="#ff6d00"/>
<text x="1454.2" y="529.5" font-size="20.6" fill="#ffffff" stroke="#ffffff" stroke-width="0.35" textLength="50.8" lengthAdjust="spacingAndGlyphs">−0.03</text>
<path d="M1439.2 537.4H1512.7Q1515.9 537.4 1515.9 540.6V563.3Q1515.9 566.5 1512.7 566.5H1439.2Z" fill="#ffcdd2"/>
<text x="1454.2" y="559.8" font-size="20.6" fill="#131722" stroke="#131722" stroke-width="0.35" textLength="50.8" lengthAdjust="spacingAndGlyphs">−0.07</text>
<g clip-path="url(#cpMacd)"><defs><clipPath id="cpMacd"><rect x="1400" y="560" width="136" height="30.5"/></clipPath></defs><path d="M1439.2 566.5H1512.7Q1515.9 566.5 1515.9 569.7V596.8Q1515.9 600 1512.7 600H1439.2Z" fill="#2196f3"/><text x="1454.2" y="589.8" font-size="20.6" fill="#ffffff" stroke="#ffffff" stroke-width="0.35" textLength="50.8" lengthAdjust="spacingAndGlyphs">−0.10</text></g>
<text x="77.9" y="623.5" font-size="20.6" fill="#131722" stroke="#131722" stroke-width="0.35" textLength="20.6" lengthAdjust="spacingAndGlyphs">21</text>
<text x="256.4" y="623.5" font-size="20.6" fill="#131722" stroke="#131722" stroke-width="0.35" textLength="21.6" lengthAdjust="spacingAndGlyphs">23</text>
<text x="434.1" y="623.5" font-size="20.6" fill="#131722" stroke="#131722" stroke-width="0.35" textLength="22.4" lengthAdjust="spacingAndGlyphs">26</text>
<text x="627.0" y="623.5" font-size="20.6" fill="#131722" stroke="#131722" stroke-width="0.35" textLength="22.0" lengthAdjust="spacingAndGlyphs">29</text>
<text x="1093.7" y="623.5" font-size="20.6" fill="#131722" stroke="#131722" stroke-width="0.35" textLength="9.9" lengthAdjust="spacingAndGlyphs">5</text>
<text x="1271.8" y="623.5" font-size="20.6" fill="#131722" stroke="#131722" stroke-width="0.35" textLength="10.3" lengthAdjust="spacingAndGlyphs">7</text>
<text x="886.9" y="623.5" font-size="20.6" fill="#131722" stroke="#131722" stroke-width="0.35" textLength="37.6" lengthAdjust="spacingAndGlyphs" font-weight="bold">Nov</text>
<rect x="0" y="0" width="1536" height="1.1" fill="#eceef3"/><rect x="0" y="639.6" width="1536" height="1.4" fill="#eceef3"/><rect x="0" y="0" width="1.1" height="641" fill="#eceef3"/><rect x="1534.6" y="0" width="1.4" height="641" fill="#eceef3"/>
</svg></body></html>
